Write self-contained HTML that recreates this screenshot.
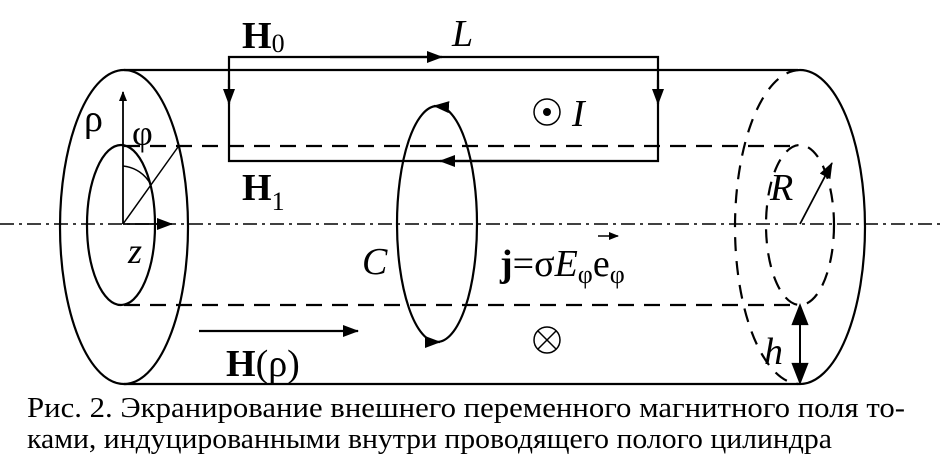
<!DOCTYPE html>
<html><head><style>body{margin:0;background:#fff}svg{display:block}text{font-family:"Liberation Serif","DejaVu Serif",serif;fill:#000}</style></head><body>
<svg width="942" height="461" viewBox="0 0 942 461" xmlns="http://www.w3.org/2000/svg">
<defs><marker id="a" markerWidth="10" markerHeight="8" refX="9" refY="4" orient="auto" markerUnits="userSpaceOnUse"><path d="M0,0L10,4L0,8z"/></marker>
<marker id="b" markerWidth="16" markerHeight="12" refX="15" refY="6" orient="auto" markerUnits="userSpaceOnUse"><path d="M0,0L16,6L0,12z"/></marker></defs>
<g stroke="#000" stroke-width="2.2" fill="none">
<line x1="0" y1="224" x2="942" y2="224" stroke-width="1.5" stroke-dasharray="14,5,3,5"/>
<line x1="124" y1="70" x2="798" y2="70"/>
<line x1="124" y1="384" x2="798" y2="384"/>
<ellipse cx="124" cy="227" rx="64" ry="157"/>
<ellipse cx="121" cy="225" rx="34" ry="80"/>
<line x1="124" y1="146" x2="800" y2="146" stroke-dasharray="16,10"/>
<line x1="124" y1="305" x2="800" y2="305" stroke-dasharray="16,10"/>
<path d="M800,70 A65,157 0 0 1 800,384"/>
<path d="M800,70 A65,157 0 0 0 800,384" stroke-dasharray="14,10"/>
<ellipse cx="800" cy="225" rx="34" ry="80" stroke-dasharray="14,10"/>
<line x1="123" y1="224" x2="123" y2="92" marker-end="url(#a)" stroke-width="1.8"/>
<line x1="123" y1="224" x2="172" y2="224" marker-end="url(#b)" stroke-width="1.8"/>
<line x1="123" y1="224" x2="178" y2="147" stroke-width="1.5"/>
<path d="M123,166 A35,35 0 0 1 151,185" stroke-width="1.5"/>
<path d="M229,161 L229,57 L658,57 L658,161 Z"/>
<line x1="330" y1="57" x2="442" y2="57" marker-end="url(#b)"/>
<line x1="540" y1="161" x2="440" y2="161" marker-end="url(#b)"/>
<line x1="229" y1="80" x2="229" y2="104" marker-end="url(#b)"/>
<line x1="658" y1="80" x2="658" y2="104" marker-end="url(#b)"/>
<ellipse cx="437" cy="224" rx="40" ry="118"/>
<line x1="448" y1="107" x2="434" y2="106" marker-end="url(#b)"/>
<line x1="426" y1="342" x2="440" y2="342" marker-end="url(#b)"/>
<line x1="199" y1="331" x2="358" y2="331" marker-end="url(#b)"/>
<line x1="800" y1="224" x2="832" y2="163" marker-end="url(#b)" stroke-width="1.8"/>
<line x1="800" y1="308" x2="800" y2="381" stroke-width="2"/>
<path d="M793,324L800,306L807,324z M793,364L800,382L807,364z" fill="#000"/>
<circle cx="547" cy="112" r="13" stroke-width="1.5"/>
<circle cx="547" cy="340" r="13" stroke-width="1.5"/>
<line x1="538" y1="331" x2="556" y2="349" stroke-width="1.5"/><line x1="556" y1="331" x2="538" y2="349" stroke-width="1.5"/>
<line x1="598" y1="236" x2="618" y2="236" stroke-width="1.5" marker-end="url(#a)"/>
</g>
<circle cx="547" cy="112" r="4"/>
<text x="242" y="48" font-size="38" font-weight="bold">H<tspan font-size="26" font-weight="normal" dy="4">0</tspan></text>
<text x="452" y="46" font-size="38" font-style="italic">L</text>
<text x="572" y="126" font-size="38" font-style="italic">I</text>
<text x="242" y="200" font-size="38" font-weight="bold">H<tspan font-size="26" font-weight="normal" dy="10">1</tspan></text>
<text x="84" y="131" font-size="38">ρ</text>
<text x="132" y="145" font-size="36">φ</text>
<text x="128" y="263" font-size="36" font-style="italic">z</text>
<text x="362" y="274" font-size="38" font-style="italic">C</text>
<text x="500" y="276" font-size="38"><tspan font-weight="bold">j</tspan>=σ<tspan font-style="italic">E</tspan><tspan font-size="26" dy="7">φ</tspan><tspan dy="-7">e</tspan><tspan font-size="26" dy="7">φ</tspan></text>
<text x="226" y="376" font-size="38"><tspan font-weight="bold">H</tspan>(ρ)</text>
<text x="770" y="200" font-size="38" font-style="italic">R</text>
<text x="764" y="364" font-size="38" font-style="italic">h</text>
<text x="27" y="417" font-size="28" textLength="878" lengthAdjust="spacingAndGlyphs">Рис. 2. Экранирование внешнего переменного магнитного поля то-</text>
<text x="27" y="448" font-size="28" textLength="805" lengthAdjust="spacingAndGlyphs">ками, индуцированными внутри проводящего полого цилиндра</text>
</svg>
</body></html>
